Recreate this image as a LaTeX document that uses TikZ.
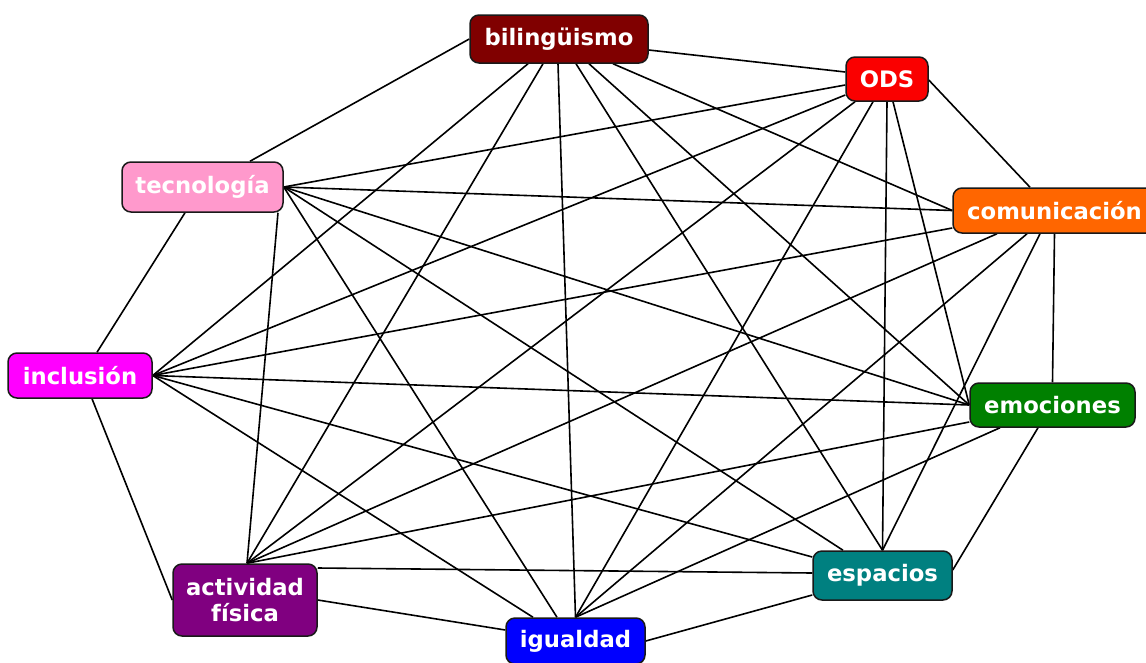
\documentclass[tikz,border=0pt]{standalone}
\usepackage{fontspec}
\setmainfont{DejaVu Sans}
\usetikzlibrary{backgrounds}
\definecolor{cBil}{RGB}{128,0,0}
\definecolor{cODS}{RGB}{250,0,0}
\definecolor{cTec}{RGB}{255,153,204}
\definecolor{cCom}{RGB}{255,102,0}
\definecolor{cInc}{RGB}{255,0,255}
\definecolor{cEmo}{RGB}{0,128,0}
\definecolor{cEsp}{RGB}{0,128,128}
\definecolor{cAct}{RGB}{128,0,128}
\definecolor{cIgu}{RGB}{0,0,255}
\tikzset{
  box/.style={draw=black!90, line width=1.5pt, rounded corners=9pt, inner sep=0pt,
    text=white, align=center,
    font=\fontsize{22.7}{26}\selectfont\bfseries},
  link/.style={draw=black, line width=1.6pt}
}
\begin{document}
\begin{tikzpicture}[x=1pt,y=-1pt]
\useasboundingbox (0,0) rectangle (1146,662);
\clip (0,0) rectangle (1146,662);
% nodes
\node[box, fill=cBil, minimum width=178pt, minimum height=48pt] (bil) at (559,39) {bilingüismo};
\node[box, fill=cODS, minimum width=82pt, minimum height=44pt] (ods) at (887,79) {ODS};
\node[box, fill=cTec, minimum width=161pt, minimum height=50pt] (tec) at (202.5,187) {tecnología};
\node[box, fill=cCom, minimum width=203pt, minimum height=45pt] (com) at (1054.5,210.5) {comunicación};
\node[box, fill=cInc, minimum width=144pt, minimum height=45pt] (inc) at (80,375.5) {inclusión};
\node[box, fill=cEmo, minimum width=165pt, minimum height=44pt] (emo) at (1052.5,405) {emociones};
\node[box, fill=cEsp, minimum width=139pt, minimum height=49pt] (esp) at (882.5,575.5) {espacios};
\node[box, fill=cAct, minimum width=144pt, minimum height=72pt] (act) at (245,600) {actividad\\física};
\node[box, fill=cIgu, minimum width=139pt, minimum height=46pt] (igu) at (575.5,641) {igualdad};
\begin{pgfonlayer}{background}
% bilingüismo
\draw[link] ([yshift=-11pt]bil.east) -- ([yshift=7pt]ods.west);
\draw[link] (bil.west) -- ([xshift=47.5pt]tec.north);
\draw[link] ([xshift=54pt]bil.south) -- (com.west);
\draw[link] ([xshift=-31pt]bil.south) -- (inc.east);
\draw[link] ([xshift=30pt]bil.south) -- (emo.west);
\draw[link] ([xshift=17pt]bil.south) -- (esp.north);
\draw[link] ([xshift=-16pt]bil.south) -- ([xshift=2pt]act.north);
\draw[link] ([xshift=-1pt]bil.south) -- (igu.north);
% ODS
\draw[link] ([yshift=-6pt]ods.west) -- (tec.east);
\draw[link] ([yshift=-16pt]ods.west) -- (inc.east);
\draw[link] ([xshift=-32pt]ods.south) -- ([xshift=2pt]act.north);
\draw[link] ([xshift=-14pt]ods.south) -- (igu.north);
\draw[link] (ods.south) -- (esp.north);
\draw[link] ([xshift=6pt]ods.south) -- (emo.west);
\draw[link] ([yshift=-1pt]ods.east) -- ([xshift=-24.5pt]com.north);
% tecnología
\draw[link] (tec.east) -- (com.west);
\draw[link] (tec.east) -- (emo.west);
\draw[link] (tec.east) -- ([xshift=-39.5pt]esp.north);
\draw[link] (tec.east) -- ([xshift=-18.5pt]igu.north);
\draw[link] ([xshift=75.5pt]tec.south) -- ([xshift=2pt]act.north);
\draw[link] ([xshift=-17.5pt]tec.south) -- ([xshift=17pt]inc.north);
% comunicación
\draw[link] ([yshift=-17.5pt]com.west) -- (inc.east);
\draw[link] ([xshift=-57.5pt]com.south) -- ([xshift=2pt]act.north);
\draw[link] ([xshift=-27.5pt]com.south) -- (igu.north);
\draw[link] ([xshift=-14.5pt]com.south) -- (esp.north);
\draw[link] (com.south) -- (emo.north);
% inclusión
\draw[link] (inc.east) -- (emo.west);
\draw[link] (inc.east) -- ([yshift=18.5pt]esp.west);
\draw[link] (inc.east) -- ([xshift=-42.5pt]igu.north);
\draw[link] ([xshift=12pt]inc.south) -- (act.west);
% emociones
\draw[link] ([yshift=-17pt]emo.west) -- ([xshift=2pt]act.north);
\draw[link] ([xshift=-52.5pt]emo.south) -- (igu.north);
\draw[link] ([xshift=-14.5pt]emo.south) -- ([yshift=5.5pt]esp.east);
% espacios
\draw[link] ([yshift=2.5pt]esp.west) -- ([yshift=32pt]act.east);
\draw[link] ([yshift=-19.5pt]esp.west) -- (igu.east);
% actividad física
\draw[link] (act.east) -- ([yshift=11pt]igu.west);
\end{pgfonlayer}
\end{tikzpicture}
\end{document}
